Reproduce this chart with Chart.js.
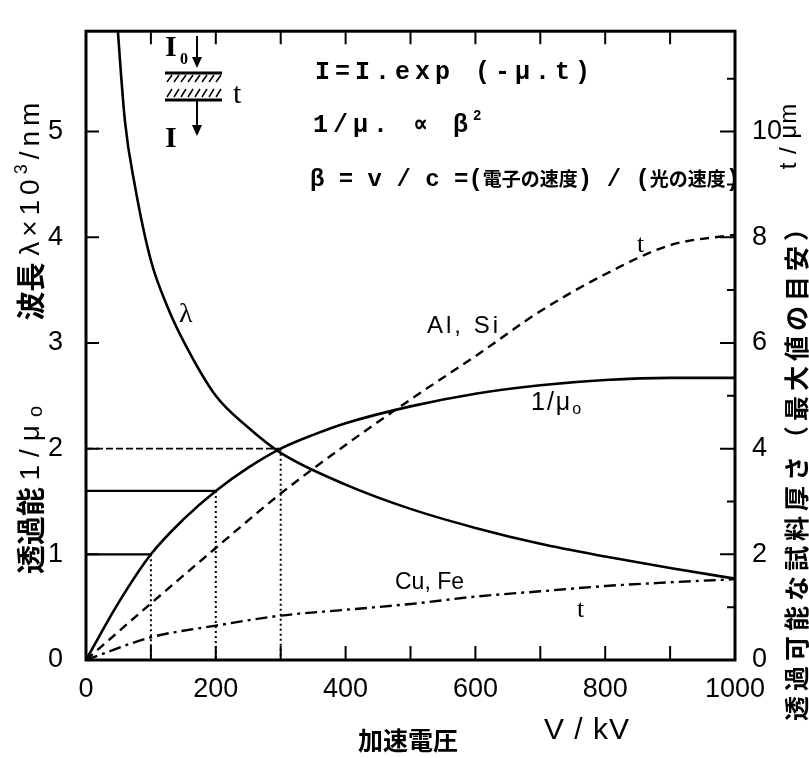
<!DOCTYPE html>
<html>
<head>
<meta charset="utf-8">
<script src="https://cdn.jsdelivr.net/npm/chart.js@4.4.1/dist/chart.umd.min.js"></script>
<style>
  html, body { margin: 0; padding: 0; background: #fff; }
</style>
</head>
<body>
<canvas id="chart" width="809" height="758"></canvas>
<script>
// accelerating voltage (kV) and 1/mu0 (left axis)
const voltage = [0, 50, 100, 150, 200, 250, 300, 350, 400, 500, 600, 700, 800, 900, 1000];
const invMu = [0, 0.54, 1.0, 1.33, 1.6, 1.82, 2.0, 2.13, 2.24, 2.4, 2.52, 2.6, 2.65, 2.67, 2.67];

// wavelength lambda x10^3 nm (left axis)
const lambdaV = [45, 60, 75, 100, 125, 150, 200, 250, 300, 400, 500, 600, 700, 800, 900, 1000];
const lambdaVal = [6.3, 5.1, 4.5, 3.78, 3.35, 3.02, 2.5, 2.2, 1.96, 1.66, 1.43, 1.25, 1.1, 0.98, 0.87, 0.77];

// max thickness t (um, right axis)
const tV = [0, 100, 200, 300, 400, 500, 600, 700, 800, 900, 1000];
const tAlSi = [0, 1.07, 2.12, 3.15, 4.07, 4.93, 5.75, 6.6, 7.3, 7.85, 8.05];
const tCuFe = [0, 0.43, 0.65, 0.84, 0.95, 1.06, 1.2, 1.3, 1.4, 1.47, 1.53];

// guide lines at 100 / 200 / 300 kV
const refV = [100, 200, 300];
const refLevel = [1, 1.6, 2];

// ticks
const xTicks = [0, 200, 400, 600, 800, 1000];
const yTicks = [0, 1, 2, 3, 4, 5];
const y2Ticks = [0, 2, 4, 6, 8, 10];
const xMinor = [100, 200, 300, 400, 500, 600, 700, 800, 900];
const yMinor = [1, 2, 3, 4, 5];
const y2Minor = [1, 2, 3, 4, 5, 6, 7, 8, 9, 10, 11];

const NARROW = "'Liberation Sans Narrow', 'Liberation Sans', Arial, sans-serif";
const SANS = "'Liberation Sans', Arial, sans-serif";
const CJK = "'Noto Sans CJK JP', sans-serif";
const MONO = "'Liberation Mono', 'DejaVu Sans Mono', monospace";
const SERIF = "'Liberation Serif', 'DejaVu Serif', serif";

const pts = (xs, ys) => xs.map((x, i) => ({ x: x, y: ys[i] }));

function drawRuns(ctx, runs, x, y, measureOnly) {
  let cx = x;
  for (const r of runs) {
    ctx.font = r.f;
    for (const ch of r.t) {
      if (!measureOnly) ctx.fillText(ch, cx, y + (r.dy || 0));
      cx += ctx.measureText(ch).width + (r.ls || 0);
    }
  }
  return cx - x;
}

function centeredRuns(ctx, runs, cx, cy, rot) {
  ctx.save();
  ctx.translate(cx, cy);
  ctx.rotate(rot);
  ctx.textAlign = 'left';
  ctx.textBaseline = 'middle';
  const w = drawRuns(ctx, runs, 0, 0, true);
  drawRuns(ctx, runs, -w / 2, 0, false);
  ctx.restore();
}

function arrowDown(ctx, x, y0, y1) {
  ctx.beginPath();
  ctx.moveTo(x, y0);
  ctx.lineTo(x, y1 - 6);
  ctx.stroke();
  ctx.beginPath();
  ctx.moveTo(x - 5, y1 - 11);
  ctx.lineTo(x + 5, y1 - 11);
  ctx.lineTo(x, y1);
  ctx.closePath();
  ctx.fill();
}

function hatch(ctx, x0, x1, y0, y1) {
  ctx.lineWidth = 1.5;
  for (let x = x0 + 2; x < x1; x += 7) {
    ctx.beginPath();
    ctx.moveTo(x, y1);
    ctx.lineTo(x + 5, y0);
    ctx.stroke();
  }
}

const decor = {
  id: 'decor',
  afterDatasetsDraw(chart) {
    const { ctx, chartArea: a, scales } = chart;
    const sx = scales.x, sy = scales.y, sy2 = scales.y2;
    ctx.save();
    ctx.strokeStyle = '#000';
    ctx.fillStyle = '#000';

    // frame
    ctx.lineWidth = 3;
    ctx.strokeRect(a.left, a.top, a.right - a.left, a.bottom - a.top);

    // inward ticks
    ctx.lineWidth = 2;
    ctx.beginPath();
    xMinor.forEach(v => {
      const px = sx.getPixelForValue(v);
      ctx.moveTo(px, a.bottom); ctx.lineTo(px, a.bottom - 14);
      ctx.moveTo(px, a.top); ctx.lineTo(px, a.top + 13);
    });
    yMinor.forEach(v => {
      const py = sy.getPixelForValue(v);
      ctx.moveTo(a.left, py); ctx.lineTo(a.left + 13, py);
    });
    y2Minor.forEach(v => {
      const py = sy2.getPixelForValue(v);
      ctx.moveTo(a.right, py); ctx.lineTo(a.right - (v % 2 === 0 ? 15 : 8), py);
    });
    ctx.stroke();

    // axis titles
    const R = -Math.PI / 2;
    centeredRuns(ctx, [
      { t: '波長 ', f: 'bold 29px ' + CJK },
      { t: 'λ×10', f: '28px ' + NARROW, ls: 5 },
      { t: '3', f: '18px ' + NARROW, dy: -9, ls: 5 },
      { t: '/nm', f: '28px ' + NARROW, ls: 5 }
    ], 31, 209, R);
    centeredRuns(ctx, [
      { t: '透過能 ', f: 'bold 29px ' + CJK },
      { t: '1/μ', f: '28px ' + NARROW, ls: 8 },
      { t: 'o', f: '20px ' + NARROW, dy: 5 }
    ], 31, 490, R);
    centeredRuns(ctx, [
      { t: 't / μm', f: '24px ' + NARROW, ls: 1 }
    ], 789, 136, R);
    centeredRuns(ctx, [
      { t: '透過可能な試料厚さ（最大値の目安）', f: 'bold 25px ' + CJK, ls: 5 }
    ], 796, 466, R);
    centeredRuns(ctx, [
      { t: 'V / kV', f: '30px ' + NARROW, ls: 1 }
    ], 587, 731, 0);
    centeredRuns(ctx, [
      { t: '加速電圧', f: 'bold 25px ' + CJK }
    ], 408, 740, 0);

    // formulas
    ctx.textAlign = 'left';
    ctx.textBaseline = 'alphabetic';
    drawRuns(ctx, [{ t: 'I=I.exp (-μ.t)', f: 'bold 25px ' + MONO, ls: 5 }], 315, 79);
    drawRuns(ctx, [
      { t: '1/μ. ∝ β', f: 'bold 25px ' + MONO, ls: 5 },
      { t: '2', f: 'bold 14px ' + MONO, dy: -12 }
    ], 313, 132);
    drawRuns(ctx, [
      { t: 'β = v / c =', f: 'bold 24px ' + MONO },
      { t: '(', f: 'bold 24px ' + MONO },
      { t: '電子の速度', f: 'bold 19px ' + CJK },
      { t: ') / (', f: 'bold 24px ' + MONO },
      { t: '光の速度', f: 'bold 19px ' + CJK },
      { t: ')', f: 'bold 24px ' + MONO }
    ], 310, 186);

    // specimen sketch
    ctx.font = 'bold 30px ' + SERIF;
    ctx.fillText('I', 165, 56);
    ctx.font = 'bold 16px ' + SERIF;
    ctx.fillText('0', 180, 64);
    ctx.font = 'bold 30px ' + SERIF;
    ctx.fillText('I', 165, 147);
    ctx.font = '30px ' + SERIF;
    ctx.fillText('t', 233, 103);
    ctx.lineWidth = 2;
    arrowDown(ctx, 197, 36, 68);
    arrowDown(ctx, 197, 101, 136);
    ctx.lineWidth = 3;
    ctx.beginPath();
    ctx.moveTo(165, 73); ctx.lineTo(222, 73);
    ctx.moveTo(165, 100); ctx.lineTo(222, 100);
    ctx.stroke();
    hatch(ctx, 165, 222, 75, 82);
    hatch(ctx, 165, 222, 89, 97);

    // curve labels
    ctx.font = '28px ' + SERIF;
    ctx.fillText('λ', 179, 322);
    drawRuns(ctx, [{ t: 'Al, Si', f: '24px ' + SANS, ls: 3 }], 427, 333);
    drawRuns(ctx, [{ t: 'Cu, Fe', f: '23px ' + SANS }], 395, 589);
    drawRuns(ctx, [
      { t: '1/μ', f: '25px ' + SANS, ls: 2 },
      { t: 'o', f: '16px ' + SANS, dy: 4 }
    ], 531, 410);
    ctx.font = '26px ' + SERIF;
    ctx.fillText('t', 637, 252);
    ctx.fillText('t', 577, 617);

    ctx.restore();
  }
};

const black = '#000';
const datasets = [
  { data: pts(lambdaV, lambdaVal), yAxisID: 'y', borderWidth: 2.6 },
  { data: pts(voltage, invMu), yAxisID: 'y', borderWidth: 2.6 },
  { data: pts(tV, tAlSi), yAxisID: 'y2', borderWidth: 2.4, borderDash: [9, 6] },
  { data: pts(tV, tCuFe), yAxisID: 'y2', borderWidth: 2.4, borderDash: [12, 5, 3, 5] }
];
refV.forEach((v, i) => {
  datasets.push({
    data: [{ x: 0, y: refLevel[i] }, { x: v, y: refLevel[i] }],
    yAxisID: 'y', borderWidth: i === 2 ? 1.6 : 2.2, borderDash: i === 2 ? [7, 3] : [],
    cubicInterpolationMode: 'default', tension: 0
  });
  datasets.push({
    data: [{ x: v, y: refLevel[i] }, { x: v, y: 0 }],
    yAxisID: 'y', borderWidth: 2, borderDash: [2, 3],
    cubicInterpolationMode: 'default', tension: 0
  });
});
datasets.forEach(d => {
  d.borderColor = black;
  d.pointRadius = 0;
  d.fill = false;
  if (!d.cubicInterpolationMode) d.cubicInterpolationMode = 'monotone';
});

const tickFont = { family: NARROW, size: 27 };
const plain = v => String(v);

new Chart(document.getElementById('chart'), {
  type: 'line',
  data: { datasets: datasets },
  plugins: [decor],
  options: {
    responsive: false,
    animation: false,
    devicePixelRatio: 1,
    layout: { padding: { top: 10, left: 0, right: 0, bottom: 0 } },
    plugins: { legend: { display: false }, tooltip: { enabled: false } },
    scales: {
      x: {
        type: 'linear', min: 0, max: 1000,
        afterBuildTicks: s => { s.ticks = xTicks.map(v => ({ value: v })); },
        afterFit: s => { s.height = 98; },
        grid: { display: false }, border: { display: false },
        ticks: { font: tickFont, color: black, padding: 5, autoSkip: false, maxRotation: 0, callback: plain }
      },
      y: {
        position: 'left', min: 0, max: 5.95,
        afterBuildTicks: s => { s.ticks = yTicks.map(v => ({ value: v })); },
        afterFit: s => { s.width = 86; },
        grid: { display: false }, border: { display: false },
        ticks: { font: tickFont, color: black, padding: 15, autoSkip: false, callback: plain }
      },
      y2: {
        position: 'right', min: 0, max: 11.9,
        afterBuildTicks: s => { s.ticks = y2Ticks.map(v => ({ value: v })); },
        afterFit: s => { s.width = 74; },
        grid: { display: false }, border: { display: false },
        ticks: { font: tickFont, color: black, padding: 9, autoSkip: false, callback: plain }
      }
    }
  }
});
</script>
</body>
</html>
